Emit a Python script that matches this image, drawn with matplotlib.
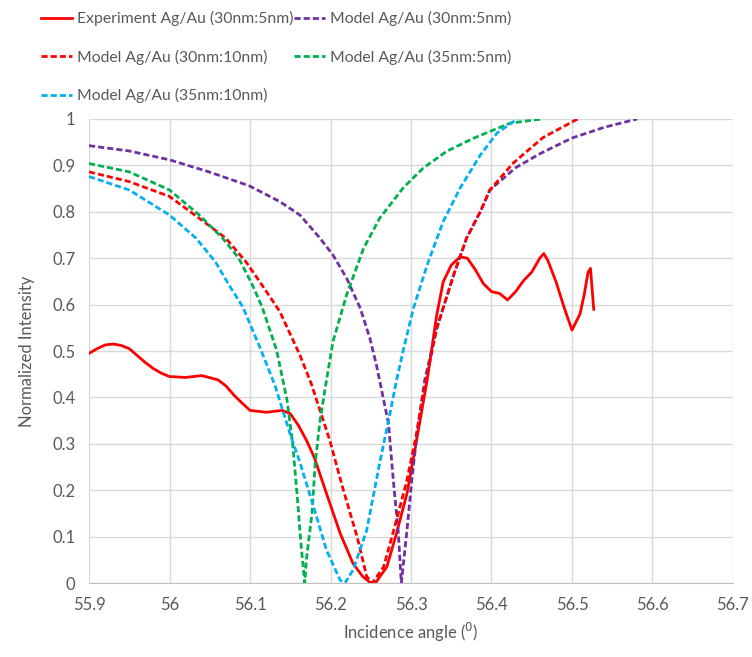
import matplotlib.pyplot as plt
from matplotlib.ticker import MultipleLocator, FuncFormatter

# experiment (solid red)
exp_x = [55.9, 55.91, 55.92, 55.93, 55.94, 55.95, 55.96, 55.97, 55.98, 55.99, 56.0,
         56.02, 56.04, 56.06, 56.07, 56.08, 56.09, 56.1, 56.12, 56.14, 56.15, 56.16,
         56.17, 56.18, 56.195, 56.212, 56.228, 56.24, 56.25, 56.257, 56.27, 56.282,
         56.295, 56.307, 56.32, 56.332, 56.34, 56.35, 56.361, 56.37, 56.38,
         56.39, 56.4, 56.41, 56.42, 56.43, 56.44, 56.45, 56.46, 56.465, 56.47, 56.48,
         56.49, 56.5, 56.51, 56.515, 56.52, 56.523, 56.527]
exp_y = [0.495, 0.505, 0.513, 0.515, 0.512, 0.505, 0.49, 0.475, 0.462, 0.452, 0.445,
         0.443, 0.447, 0.438, 0.425, 0.405, 0.388, 0.372, 0.368, 0.372, 0.365, 0.34,
         0.308, 0.27, 0.193, 0.107, 0.042, 0.014, 0.0, 0.003, 0.035, 0.107,
         0.193, 0.308, 0.437, 0.578, 0.649, 0.685, 0.703, 0.7, 0.675,
         0.645, 0.628, 0.624, 0.61, 0.628, 0.652, 0.67, 0.7, 0.71, 0.695, 0.65,
         0.595, 0.545, 0.58, 0.62, 0.67, 0.678, 0.59]

# model Ag/Au 30nm:5nm (purple)
m1_x = [55.9, 55.95, 56.0, 56.049, 56.099, 56.137, 56.162, 56.187, 56.203, 56.22,
        56.237, 56.249, 56.257, 56.263, 56.272, 56.278, 56.284, 56.288, 56.295,
        56.301, 56.309, 56.317, 56.332, 56.353, 56.369, 56.386, 56.398, 56.43,
        56.46, 56.5, 56.54, 56.581]
m1_y = [0.9425, 0.931, 0.912, 0.886, 0.856, 0.822, 0.793, 0.743, 0.707, 0.657,
        0.592, 0.527, 0.47, 0.42, 0.344, 0.222, 0.114, 0.0, 0.114,
        0.222, 0.344, 0.437, 0.549, 0.664, 0.743, 0.8, 0.847, 0.895,
        0.925, 0.959, 0.982, 1.0]

# model Ag/Au 30nm:10nm (red dashed)
m2_x = [55.9, 55.95, 56.0, 56.037, 56.07, 56.095, 56.115, 56.137, 56.162, 56.176,
        56.199, 56.216, 56.233, 56.245, 56.252, 56.266, 56.282, 56.295, 56.307,
        56.317, 56.332, 56.353, 56.369, 56.386, 56.398, 56.427, 56.464, 56.507]
m2_y = [0.886, 0.865, 0.833, 0.786, 0.743, 0.692, 0.642, 0.585, 0.491, 0.43,
        0.308, 0.2, 0.1, 0.014, 0.0, 0.035, 0.136, 0.222, 0.323,
        0.423, 0.549, 0.664, 0.743, 0.8, 0.847, 0.905, 0.96, 1.0]

# model Ag/Au 35nm:5nm (green)
m3_x = [55.9, 55.95, 56.0, 56.037, 56.066, 56.086, 56.103, 56.115, 56.133, 56.146,
        56.153, 56.159, 56.163, 56.168, 56.17, 56.177, 56.181, 56.187, 56.195,
        56.203, 56.22, 56.241, 56.261, 56.29, 56.315, 56.344, 56.377, 56.423, 56.463]
m3_y = [0.904, 0.886, 0.847, 0.793, 0.743, 0.7, 0.642, 0.595, 0.502, 0.394,
        0.3, 0.18, 0.09, 0.0, 0.05, 0.15, 0.258, 0.351, 0.437,
        0.52, 0.621, 0.721, 0.786, 0.851, 0.894, 0.93, 0.958, 0.991, 1.0]

# model Ag/Au 35nm:10nm (cyan)
m4_x = [55.9, 55.95, 56.0, 56.033, 56.057, 56.074, 56.091, 56.112, 56.131, 56.15,
        56.162, 56.179, 56.195, 56.212, 56.218, 56.228, 56.245, 56.261, 56.274,
        56.282, 56.291, 56.303, 56.32, 56.34, 56.361, 56.386, 56.407, 56.432]
m4_y = [0.876, 0.847, 0.793, 0.743, 0.692, 0.642, 0.595, 0.509, 0.426, 0.32,
        0.26, 0.164, 0.071, 0.006, 0.0, 0.028, 0.114, 0.258, 0.366,
        0.437, 0.506, 0.592, 0.685, 0.779, 0.851, 0.922, 0.97, 1.0]

labels = ["Experiment Ag/Au (30nm:5nm)", "Model Ag/Au (30nm:5nm)",
          "Model Ag/Au (30nm:10nm)", "Model Ag/Au (35nm:5nm)",
          "Model Ag/Au (35nm:10nm)"]

plt.rcParams["font.family"] = ["Lato", "DejaVu Sans"]
txt = "#595959"
dash = (0, (2.2, 1.1))

fig = plt.figure(figsize=(7.52, 6.57), dpi=100)
ax = fig.add_axes([0.1184, 0.1126, 0.8563, 0.7063])

h0, = ax.plot(exp_x, exp_y, color="#FF0000", lw=2.0, label=labels[0])
h1, = ax.plot(m1_x, m1_y, color="#7030A0", lw=2.0, ls=dash, label=labels[1])
h2, = ax.plot(m2_x, m2_y, color="#FF0000", lw=2.0, ls=dash, label=labels[2])
h3, = ax.plot(m3_x, m3_y, color="#00B050", lw=2.0, ls=dash, label=labels[3])
h4, = ax.plot(m4_x, m4_y, color="#00B0F0", lw=2.0, ls=dash, label=labels[4])

ax.set_xlim(55.9, 56.7)
ax.set_ylim(0, 1)
ax.xaxis.set_major_locator(MultipleLocator(0.1))
ax.yaxis.set_major_locator(MultipleLocator(0.1))
fmt = FuncFormatter(lambda v, p: f"{v:.1f}".rstrip("0").rstrip("."))
ax.xaxis.set_major_formatter(fmt)
ax.yaxis.set_major_formatter(fmt)
ax.grid(True, color="#D9D9D9", lw=1.0)
ax.set_axisbelow(True)
for s in ["top", "right", "left"]:
    ax.spines[s].set_visible(False)
ax.spines["bottom"].set_color("#BFBFBF")
ax.tick_params(length=0, labelsize=12, colors=txt, pad=10)
ax.set_xlabel("Incidence angle ($^0$)", fontsize=12, color=txt, labelpad=6)
ax.set_ylabel("Normalized Intensity", fontsize=12, color=txt, labelpad=12)

# excel fills legend row-wise, matplotlib column-wise
fig.legend([h0, h2, h4, h1, h3], [labels[0], labels[2], labels[4], labels[1], labels[3]],
           ncol=2, loc="upper left", bbox_to_anchor=(0.04, 1.0), frameon=False,
           fontsize=11.3, labelcolor=txt, handlelength=2.0, handletextpad=0.3,
           columnspacing=0.0, labelspacing=1.5, borderaxespad=0.3)

fig.savefig("out.png", dpi=100)
